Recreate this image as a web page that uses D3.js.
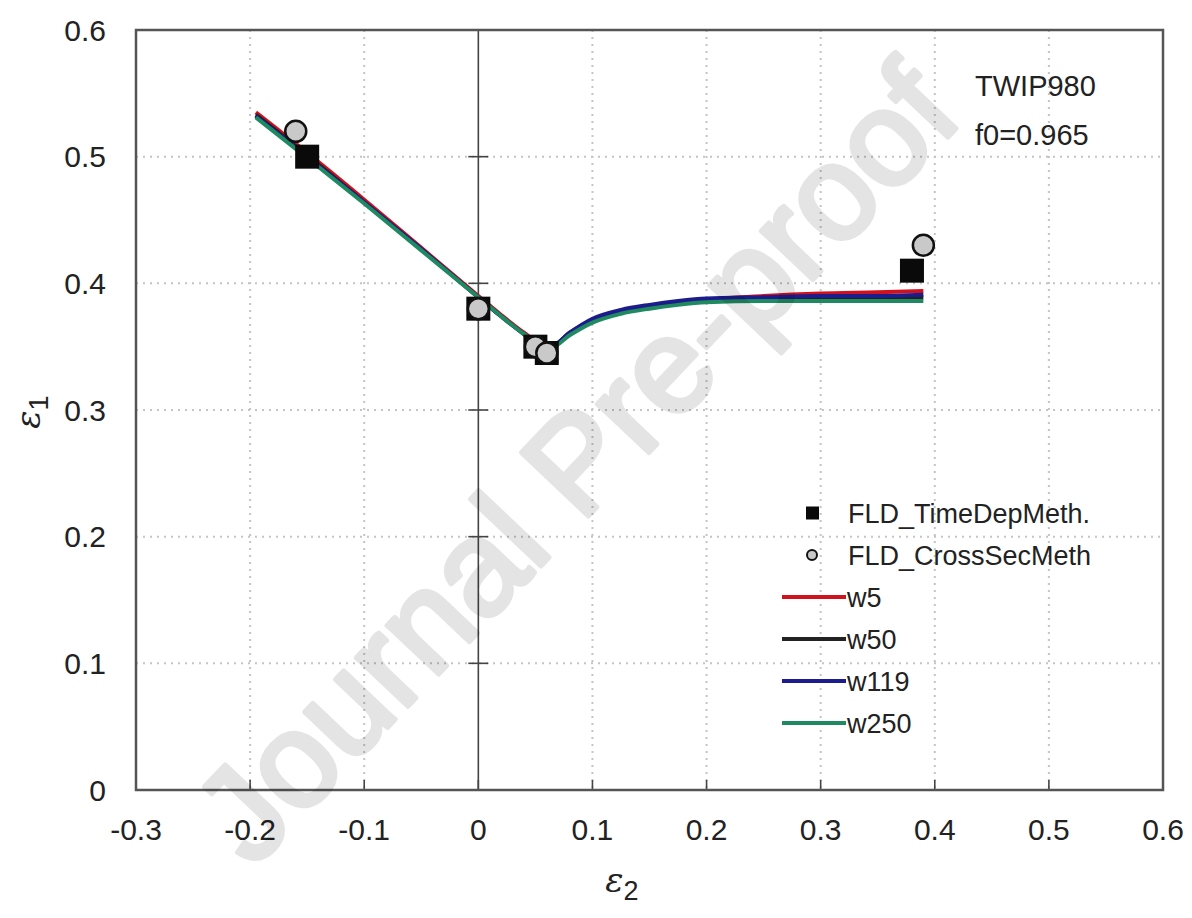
<!DOCTYPE html>
<html>
<head>
<meta charset="utf-8">
<script src="https://cdn.jsdelivr.net/npm/d3@7"></script>
<style>
  html, body { margin: 0; padding: 0; background: #fff; }
  svg text { font-family: "Liberation Sans", Arial, sans-serif; fill: #222; }
</style>
</head>
<body>
<svg id="chart" width="1192" height="918"></svg>
<script>
// Forming limit data: major strain eps1 vs minor strain eps2
const xTicks = [-0.3, -0.2, -0.1, 0, 0.1, 0.2, 0.3, 0.4, 0.5, 0.6];
const yTicks = [0, 0.1, 0.2, 0.3, 0.4, 0.5, 0.6];
const xTickLabels = ["-0.3", "-0.2", "-0.1", "0", "0.1", "0.2", "0.3", "0.4", "0.5", "0.6"];
const yTickLabels = ["0", "0.1", "0.2", "0.3", "0.4", "0.5", "0.6"];

// Experimental points
const timeDepE2 = [-0.15, 0.0, 0.05, 0.06, 0.38];
const timeDepE1 = [0.50, 0.38, 0.35, 0.345, 0.41];
const crossSecE2 = [-0.16, 0.0, 0.05, 0.06, 0.39];
const crossSecE1 = [0.52, 0.38, 0.35, 0.345, 0.43];

// Predicted limit curves for different weights
const curveE2 = [-0.195, -0.15, -0.1, -0.05, 0.0, 0.02, 0.04, 0.055, 0.065, 0.08, 0.1, 0.125, 0.15, 0.175, 0.2, 0.25, 0.3, 0.35, 0.39];
const w5E1   = [0.535, 0.503, 0.466, 0.428, 0.390, 0.375, 0.361, 0.352, 0.351, 0.360, 0.370, 0.377, 0.381, 0.384, 0.387, 0.390, 0.392, 0.393, 0.394];
const w50E1  = [0.533, 0.501, 0.464, 0.427, 0.389, 0.374, 0.360, 0.351, 0.351, 0.361, 0.371, 0.378, 0.382, 0.385, 0.387, 0.388, 0.389, 0.389, 0.389];
const w119E1 = [0.532, 0.500, 0.464, 0.427, 0.389, 0.374, 0.360, 0.351, 0.351, 0.361, 0.372, 0.379, 0.383, 0.386, 0.388, 0.389, 0.390, 0.390, 0.391];
const w250E1 = [0.531, 0.499, 0.463, 0.426, 0.389, 0.374, 0.360, 0.351, 0.350, 0.359, 0.369, 0.376, 0.380, 0.383, 0.385, 0.386, 0.386, 0.386, 0.386];

const seriesNames = ["w5", "w50", "w119", "w250"];
const seriesColors = ["#d0121e", "#222222", "#1c1c8c", "#1f8a62"];
const seriesValues = [w5E1, w50E1, w119E1, w250E1];

const svg = d3.select("#chart");
const margin = { left: 136, right: 1163, top: 30, bottom: 790 };

const x = d3.scaleLinear().domain([-0.3, 0.6]).range([margin.left, margin.right]);
const y = d3.scaleLinear().domain([0, 0.6]).range([margin.bottom, margin.top]);

// Dotted grid
const grid = svg.append("g");
grid.selectAll("line.vg").data(xTicks.filter(d => d !== 0 && d > -0.3 && d < 0.6)).join("line")
  .attr("x1", d => x(d)).attr("x2", d => x(d))
  .attr("y1", y(0.6)).attr("y2", y(0))
  .attr("stroke", "#c4c4c4").attr("stroke-width", 2).attr("stroke-dasharray", "2,5");
grid.selectAll("line.hg").data(yTicks.filter(d => d > 0 && d < 0.6)).join("line")
  .attr("x1", x(-0.3)).attr("x2", x(0.6))
  .attr("y1", d => y(d)).attr("y2", d => y(d))
  .attr("stroke", "#c4c4c4").attr("stroke-width", 2).attr("stroke-dasharray", "2,5");

// Zero axis with cross ticks
svg.append("line")
  .attr("x1", x(0)).attr("x2", x(0)).attr("y1", y(0.6)).attr("y2", y(0))
  .attr("stroke", "#444").attr("stroke-width", 1.6);
svg.append("g").selectAll("line").data(yTicks.filter(d => d > 0 && d < 0.6)).join("line")
  .attr("x1", x(0) - 10).attr("x2", x(0) + 10)
  .attr("y1", d => y(d)).attr("y2", d => y(d))
  .attr("stroke", "#444").attr("stroke-width", 1.6);

// Bottom ticks (inward)
svg.append("g").selectAll("line").data(xTicks.filter(d => d > -0.3 && d < 0.6)).join("line")
  .attr("x1", d => x(d)).attr("x2", d => x(d))
  .attr("y1", y(0)).attr("y2", y(0) - 10)
  .attr("stroke", "#444").attr("stroke-width", 1.6);

// Frame
svg.append("rect")
  .attr("x", x(-0.3)).attr("y", y(0.6))
  .attr("width", x(0.6) - x(-0.3)).attr("height", y(0) - y(0.6))
  .attr("fill", "none").attr("stroke", "#555").attr("stroke-width", 2.5);

// Tick labels
svg.append("g").selectAll("text").data(xTicks).join("text")
  .attr("x", d => x(d)).attr("y", y(0) + 50)
  .attr("text-anchor", "middle").attr("font-size", 30)
  .text((d, i) => xTickLabels[i]);
svg.append("g").selectAll("text").data(yTicks).join("text")
  .attr("x", x(-0.3) - 30).attr("y", d => y(d)).attr("dy", "0.36em")
  .attr("text-anchor", "end").attr("font-size", 30)
  .text((d, i) => yTickLabels[i]);

// Axis titles
const xt = svg.append("text").attr("x", 622).attr("y", 892)
  .attr("text-anchor", "middle")
  .style("font-family", "'DejaVu Serif', serif").style("font-style", "italic").attr("font-size", 34);
xt.append("tspan").text("ε");
xt.append("tspan").attr("dy", 8).attr("font-size", 27).style("font-style", "normal")
  .style("font-family", "'Liberation Sans', sans-serif").text("2");

const yt = svg.append("text").attr("transform", "translate(40,412) rotate(-90)")
  .attr("text-anchor", "middle")
  .style("font-family", "'DejaVu Serif', serif").style("font-style", "italic").attr("font-size", 34);
yt.append("tspan").text("ε");
yt.append("tspan").attr("dy", 8).attr("font-size", 27).style("font-style", "normal")
  .style("font-family", "'Liberation Sans', sans-serif").text("1");

// Curves
const line = d3.line().x(d => x(d[0])).y(d => y(d[1])).curve(d3.curveMonotoneX);
seriesValues.forEach((vals, k) => {
  svg.append("path")
    .datum(curveE2.map((e2, i) => [e2, vals[i]]))
    .attr("d", line)
    .attr("fill", "none")
    .attr("stroke", seriesColors[k])
    .attr("stroke-width", 4)
    .attr("stroke-linejoin", "round");
});

// Experimental markers
const sq = 24;
svg.append("g").selectAll("rect").data(timeDepE2.map((e2, i) => [e2, timeDepE1[i]])).join("rect")
  .attr("x", d => x(d[0]) - sq / 2).attr("y", d => y(d[1]) - sq / 2)
  .attr("width", sq).attr("height", sq)
  .attr("fill", "#0a0a0a");
svg.append("g").selectAll("circle").data(crossSecE2.map((e2, i) => [e2, crossSecE1[i]])).join("circle")
  .attr("cx", d => x(d[0])).attr("cy", d => y(d[1])).attr("r", 10.5)
  .attr("fill", "#c9c9c9").attr("stroke", "#111").attr("stroke-width", 2.5);

// Material annotation
svg.append("text").attr("x", 975).attr("y", 96).attr("font-size", 29).text("TWIP980");
svg.append("text").attr("x", 975).attr("y", 145).attr("font-size", 29).text("f0=0.965");

// Legend
const lg = svg.append("g");
const rowY = [513, 555, 597, 639, 681, 723];
lg.append("rect").attr("x", 806).attr("y", rowY[0] - 6.5).attr("width", 13).attr("height", 13).attr("fill", "#0a0a0a");
lg.append("text").attr("x", 848).attr("y", rowY[0]).attr("dy", "0.36em").attr("font-size", 27).text("FLD_TimeDepMeth.");
lg.append("circle").attr("cx", 812).attr("cy", rowY[1]).attr("r", 5)
  .attr("fill", "#c9c9c9").attr("stroke", "#111").attr("stroke-width", 2);
lg.append("text").attr("x", 848).attr("y", rowY[1]).attr("dy", "0.36em").attr("font-size", 27).text("FLD_CrossSecMeth");
seriesNames.forEach((name, k) => {
  const yy = rowY[k + 2];
  lg.append("line").attr("x1", 782).attr("x2", 846).attr("y1", yy).attr("y2", yy)
    .attr("stroke", seriesColors[k]).attr("stroke-width", 4);
  lg.append("text").attr("x", 847).attr("y", yy).attr("dy", "0.36em").attr("font-size", 27).text(name);
});

// Watermark
svg.append("g").attr("opacity", 0.1)
  .append("text")
  .attr("transform", "translate(575,462) rotate(-46.5)")
  .attr("text-anchor", "middle").attr("dy", "0.35em")
  .attr("font-size", 134)
  .style("fill", "#000")
  .style("stroke", "#000").style("stroke-width", 5).style("stroke-linejoin", "round")
  .text("Journal Pre-proof");
</script>
</body>
</html>
